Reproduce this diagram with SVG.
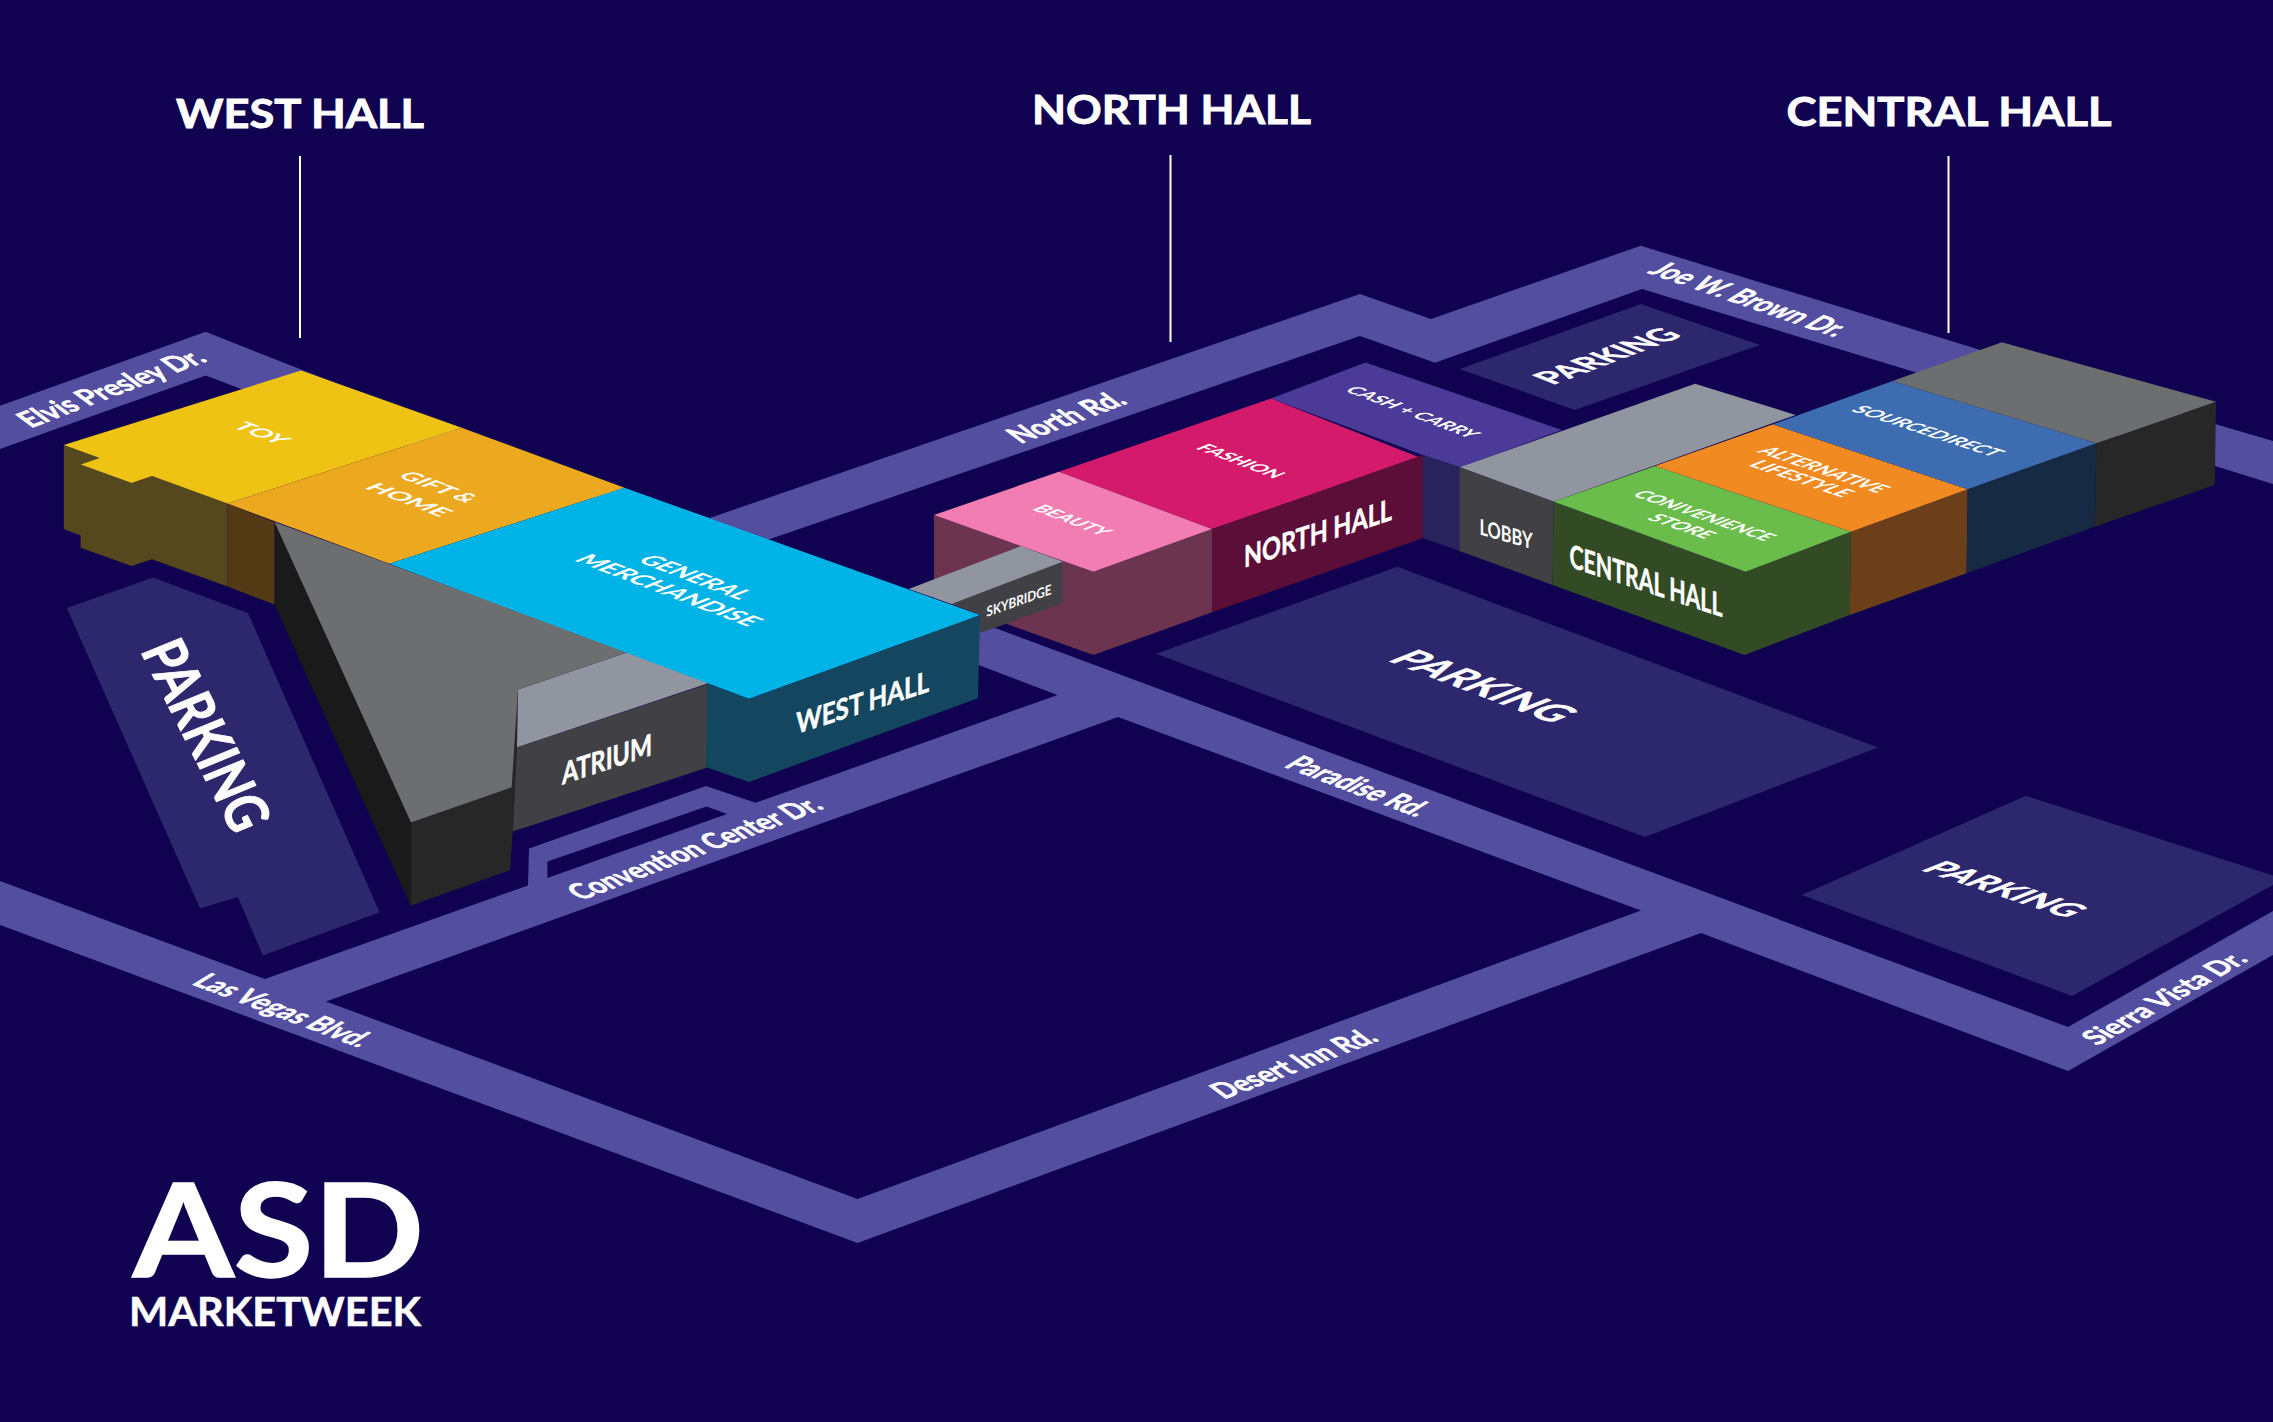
<svg xmlns="http://www.w3.org/2000/svg" width="2273" height="1422" viewBox="0 0 2273 1422">
<style>
.t{font-family:"Lato","Liberation Sans",sans-serif;font-weight:700;fill:#fff;text-anchor:middle}
.b{stroke:#fff;stroke-width:.5}
.h{stroke:#fff;stroke-width:.9}
.road{fill:#534ea0}.park{fill:#2d286d}
.lgray{fill:#9195a0}.dgray{fill:#414145}.gray{fill:#6d6e70}.black{fill:#272727}
.line{stroke:#fff;stroke-width:2;fill:none}
</style>
<rect width="2273" height="1422" fill="#100250"/>
<g id="connectors">
<path class="road" fill-rule="evenodd" d="M0 881L265 979L528 885.4L529 848.6L706 786L755.6 802.7L1057.6 695L900 635L960 615L998 629L2068 1027L2273 911L2273 955L2068 1071L1701 933L857.6 1243L0 925ZM326 1001.4L1118 717L1641 910.5L857.6 1199ZM547.4 861.6L706.6 806.5L727 813.9L547.4 878Z"/>
<path class="road" d="M0 405.7L205.6 331.8L480 440L709.7 518L1360 294L1431 319L1640.8 245.7L1978 349.3L2216 424.3L2273 441L2273 484L2215 466L1915.3 372.3L1642 289L1435 362.7L1360 336L769.4 539.3L700 530L300 412L240 388.6L205.6 375.5L0 449Z"/>
<text class="t b" font-size="24" textLength="190" lengthAdjust="spacingAndGlyphs" y="8.6" transform="matrix(.935 -.355 1 .75 111 388)">Elvis Presley Dr.</text>
<text class="t b" font-size="24" textLength="261" lengthAdjust="spacingAndGlyphs" y="8.6" transform="matrix(.935 -.355 1 .75 694.5 848)">Convention Center Dr.</text>
<text class="t b" font-size="24" textLength="116" lengthAdjust="spacingAndGlyphs" y="8.6" transform="matrix(.935 -.355 1 .75 1066 417)">North Rd.</text>
<text class="t b" font-size="24" textLength="199" lengthAdjust="spacingAndGlyphs" y="8.6" transform="matrix(.945 .325 -1.1 .68 1750 299)">Joe W. Brown Dr.</text>
<text class="t b" font-size="24" textLength="143" lengthAdjust="spacingAndGlyphs" y="8.6" transform="matrix(.935 .355 -1.1 .68 1359 786)">Paradise Rd.</text>
<text class="t b" font-size="24" textLength="167" lengthAdjust="spacingAndGlyphs" y="8.6" transform="matrix(.935 -.355 1 .75 1293.5 1063.5)">Desert Inn Rd.</text>
<text class="t b" font-size="24" textLength="180" lengthAdjust="spacingAndGlyphs" y="8.6" transform="matrix(.935 .355 -1.1 .68 284 1010)">Las Vegas Blvd.</text>
<text class="t b" font-size="24" textLength="175" lengthAdjust="spacingAndGlyphs" y="8.6" transform="matrix(.87 -.49 1.05 .6 2164 998)">Sierra Vista Dr.</text>
</g>
<g id="parking-west">
<polygon class="park" points="153,577.6 248,613 379.6,912.2 262.8,955.5 237.8,897 200,908.6 66.8,608"/>
<text class="t h" font-size="52" textLength="208" lengthAdjust="spacingAndGlyphs" y="18.7" transform="matrix(.45 .89 -1.05 .43 206.5 735)">PARKING</text>
</g>
<g id="parking-center">
<polygon class="park" points="1397.4,566.8 1878,747.4 1645,837 1156,653.7"/>
<text class="t b" font-size="34" textLength="178" lengthAdjust="spacingAndGlyphs" y="12.2" transform="matrix(.935 .355 -1.2 .48 1484 686)">PARKING</text>
</g>
<g id="parking-right">
<polygon class="park" points="2026,795.7 2273,875.5 2273,885 2072,996 1801.7,895"/>
<text class="t b" font-size="28" textLength="155" lengthAdjust="spacingAndGlyphs" y="10" transform="matrix(.95 .31 -1.2 .48 2005 889)">PARKING</text>
</g>
<g id="parking-top">
<polygon class="park" points="1640.8,304 1759.8,345 1574.8,410 1459.7,369"/>
<text class="t b" font-size="26" textLength="140" lengthAdjust="spacingAndGlyphs" y="9.4" transform="matrix(.935 -.355 1.2 .48 1606.6 356)">PARKING</text>
</g>
<g id="titles">
<text class="t h" font-size="40" textLength="248" lengthAdjust="spacingAndGlyphs" x="300" y="128">WEST HALL</text>
<text class="t h" font-size="40" textLength="279" lengthAdjust="spacingAndGlyphs" x="1171.5" y="124">NORTH HALL</text>
<text class="t h" font-size="40" textLength="325" lengthAdjust="spacingAndGlyphs" x="1949" y="126">CENTRAL HALL</text>
<path class="line" d="M300 156V338M1170.5 155V342M1948.5 156V333"/>
</g>
<g id="north-hall">
<polygon fill="#4b3a98" points="1271,398.6 1365.5,362.4 1562,430 1460,467.3 1422.7,455"/>
<polygon fill="#29235c" points="1422.7,455 1460,467.3 1460,551 1422.7,538.3"/>
<text class="t" font-size="15" textLength="134" lengthAdjust="spacingAndGlyphs" y="5.4" transform="matrix(.935 .355 -1.2 .48 1413 412)">CASH + CARRY</text>
<polygon fill="#d31a6b" points="1271,398.6 1421,458 1212,529 1059,471.7"/>
<text class="t" font-size="15" textLength="85" lengthAdjust="spacingAndGlyphs" y="5.4" transform="matrix(.935 .355 -1.2 .48 1241 461)">FASHION</text>
<polygon fill="#6d3450" points="934,515 1093.4,571.7 1212,529 1212,612.3 1093.4,655 934,598"/>
<polygon fill="#5a0e38" points="1212,529 1422.7,455 1422.7,538.3 1212,612.3"/>
<text class="t b" font-size="30" textLength="148" lengthAdjust="spacingAndGlyphs" y="10.8" transform="matrix(1 -.324 0 1 1318 533)">NORTH HALL</text>
<polygon class="lgray" points="1021,546 1063,561.7 952,604 908.7,589"/>
<polygon class="dgray" points="1063,561.7 1063,603.3 980,633 980,615 952,604"/>
<text class="t" font-size="14" textLength="65" lengthAdjust="spacingAndGlyphs" y="5" transform="matrix(1 -.35 0 1 1019 600.5)">SKYBRIDGE</text>
<polygon fill="#f27db2" points="1059,471.7 1212,529 1093.4,571.7 934,515"/>
<text class="t" font-size="15" textLength="75" lengthAdjust="spacingAndGlyphs" y="5.4" transform="matrix(.935 .355 -1.2 .48 1072.7 520)">BEAUTY</text>
</g>
<g id="west-hall">
<polygon fill="#55471e" points="63.8,444.9 99.5,458 80.6,464.5 131.6,482.9 152,476 227.5,503.6 227.5,586.6 152,559.2 131.6,566 80.6,547.8 80.6,535.5 63.8,529"/>
<polygon fill="#533a14" points="227.5,503.6 274.5,522 274.5,604.5 227.5,586.6"/>
<polygon fill="#efc313" points="301,370.6 461.7,427.8 227.5,503.6 152,476 131.6,482.9 80.6,464.5 99.5,458 63.8,444.9"/>
<text class="t" font-size="17" textLength="50" lengthAdjust="spacingAndGlyphs" y="6.1" transform="matrix(.935 .355 -1.2 .48 262 433)">TOY</text>
<polygon fill="#eca81e" points="227.5,503.6 461.7,427.8 624.5,487.8 389.3,563.7"/>
<text class="t" font-size="17" textLength="75" lengthAdjust="spacingAndGlyphs" y="6.1" transform="matrix(.935 .355 -1.2 .48 438.8 487)">GIFT &amp;</text>
<text class="t" font-size="17" textLength="82" lengthAdjust="spacingAndGlyphs" y="6.1" transform="matrix(.935 .355 -1.2 .48 409 499.6)">HOME</text>
<polygon fill="#1a1a1a" points="274.5,522 411,822.4 410.7,905.7 274.5,604.5"/>
<polygon class="black" points="411,822.4 511.7,787.3 518,689.4 517,747.3 512.8,831.4 510,870.2 410.7,905.7"/>
<polygon class="dgray" points="517,747.3 708,684 706.6,767.8 512.8,831.4"/>
<text class="t b" font-size="30" textLength="90" lengthAdjust="spacingAndGlyphs" y="10.8" transform="matrix(1 -.33 0 1 607 759)">ATRIUM</text>
<polygon class="lgray" points="518,689.4 629,651.8 709,683 517,747.3"/>
<polygon class="gray" points="274.5,522 629,651.8 518,689.4 511.7,787.3 411,822.4"/>
<polygon fill="#14475f" points="707,683 749,698.7 980,615 978,698.3 749,782 706,767.3"/>
<text class="t b" font-size="29" textLength="133" lengthAdjust="spacingAndGlyphs" y="10.4" transform="matrix(1 -.32 0 1 862.7 702.4)">WEST HALL</text>
<polygon fill="#00b3e6" points="624.5,487.8 980,615 749,698.7 389.3,563.7"/>
<text class="t" font-size="20" textLength="110" lengthAdjust="spacingAndGlyphs" y="7.2" transform="matrix(.935 .355 -1.2 .48 696 577)">GENERAL</text>
<text class="t" font-size="20" textLength="187" lengthAdjust="spacingAndGlyphs" y="7.2" transform="matrix(.935 .355 -1.2 .48 669 590)">MERCHANDISE</text>
</g>
<g id="central-hall">
<polygon class="lgray" points="1695,383.7 1795.7,415 1553.7,501.7 1459.7,467.3"/>
<polygon class="dgray" points="1459.7,467.3 1553.7,501.7 1552.6,585 1459.7,551"/>
<text class="t" font-size="22" textLength="53" lengthAdjust="spacingAndGlyphs" y="7.9" transform="matrix(1 .28 0 1 1506 534)">LOBBY</text>
<polygon fill="#324b24" points="1553.7,501.7 1745.6,571.7 1851,531.7 1849.8,615 1744.5,655 1552.6,585"/>
<text class="t b" font-size="32" textLength="153" lengthAdjust="spacingAndGlyphs" y="11.5" transform="matrix(1 .33 0 1 1646 580.5)">CENTRAL HALL</text>
<polygon fill="#6abd4b" points="1553.7,501.7 1655,466 1851,531.7 1745.6,571.7"/>
<text class="t" font-size="16" textLength="141" lengthAdjust="spacingAndGlyphs" y="5.8" transform="matrix(.945 .325 -1.2 .48 1704.6 515.5)">CONIVENIENCE</text>
<text class="t" font-size="16" textLength="62" lengthAdjust="spacingAndGlyphs" y="5.8" transform="matrix(.945 .325 -1.2 .48 1682 526)">STORE</text>
<polygon fill="#6b3f19" points="1851,531.7 1967.7,489.3 1966.6,573.3 1849.8,615"/>
<polygon fill="#f18b21" points="1655,466 1773,424.3 1967.7,489.3 1851,531.7"/>
<text class="t" font-size="17" textLength="128" lengthAdjust="spacingAndGlyphs" y="6.1" transform="matrix(.945 .325 -1.2 .48 1824 469.5)">ALTERNATIVE</text>
<text class="t" font-size="17" textLength="100" lengthAdjust="spacingAndGlyphs" y="6.1" transform="matrix(.945 .325 -1.2 .48 1802 478.5)">LIFESTYLE</text>
<polygon fill="#162b43" points="1967.7,489.3 2096.4,443.3 2094.7,526.7 1966.6,573.3"/>
<polygon fill="#3d6db0" points="1773,424.3 1892.5,381 2096.4,443.3 1967.7,489.3"/>
<text class="t" font-size="16" textLength="150" lengthAdjust="spacingAndGlyphs" y="5.8" transform="matrix(.95 .31 -1.2 .48 1928 431)">SOURCEDIRECT</text>
<polygon class="black" points="2096.4,443.3 2216,401.7 2214.8,485 2094.7,526.7"/>
<polygon class="gray" points="1892.5,381 2001.9,342.3 2216,401.7 2096.4,443.3"/>
</g>
<g id="logo">
<text class="t" font-size="131" textLength="291" lengthAdjust="spacingAndGlyphs" stroke="#fff" stroke-width="1.5" x="278.5" y="1277">ASD</text>
<text class="t b" font-size="40" textLength="292" lengthAdjust="spacingAndGlyphs" x="275" y="1326">MARKETWEEK</text>
</g>
</svg>
